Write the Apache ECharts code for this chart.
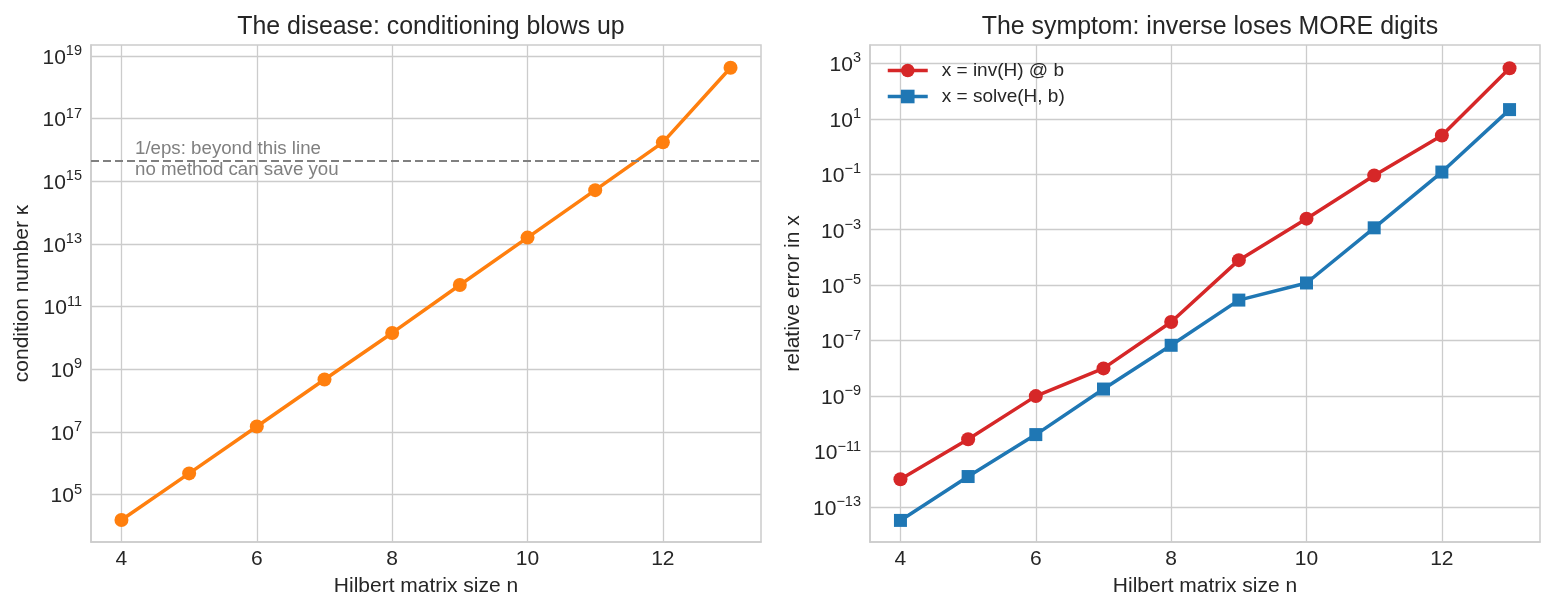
<!DOCTYPE html>
<html><head><meta charset="utf-8">
<script src="https://cdn.jsdelivr.net/npm/echarts@6/dist/echarts.min.js"></script>
<style>html,body{margin:0;padding:0;background:#fff}#c{width:1555px;height:611px}</style>
</head><body><div id="c"></div>
<script>
// ---- data ----
const sizes = [4, 5, 6, 7, 8, 9, 10, 11, 12, 13];
const condNumbers = [1.55e4, 4.77e5, 1.50e7, 4.75e8, 1.45e10, 4.93e11, 1.60e13, 5.22e14, 1.75e16, 4.2e18];
const errInv = [1.0e-12, 2.8e-11, 1.0e-9, 1.0e-8, 4.7e-7, 8.0e-5, 2.5e-3, 9.0e-2, 2.5, 6.6e2];
const errSolve = [3.3e-14, 1.26e-12, 4.1e-11, 1.8e-9, 6.8e-8, 2.9e-6, 1.2e-5, 1.17e-3, 0.12, 21.4];
const invEps = 4.5036e15;
const leftTicksExp = [5, 7, 9, 11, 13, 15, 17, 19];
const rightTicksExp = [-13, -11, -9, -7, -5, -3, -1, 1, 3];
const xTicks = [4, 6, 8, 10, 12];
const titles = ['The disease: conditioning blows up', 'The symptom: inverse loses MORE digits'];
const xName = 'Hilbert matrix size n';
const yNames = ['condition number \u03ba', 'relative error in x'];
const seriesNames = ['x = inv(H) @ b', 'x = solve(H, b)'];
const annotation = '1/eps: beyond this line\nno method can save you';

// ---- build ----
const FONT = 'Liberation Sans';
const TXT = '#262626';
const GRID = '#cccccc';
const lg = v => Math.log10(v);
const pts = vals => sizes.map((n, i) => [n, lg(vals[i])]);

function yLabel(v) {
  const e = Math.round(v);
  const s = e < 0 ? '\u2212' + Math.abs(e) : String(e);
  return '{b|10}{s|' + s + '}';
}
const rich = {
  b: { fontSize: 21, fontFamily: FONT, color: TXT, padding: [4, 0, 0, 0] },
  s: { fontSize: 14.5, fontFamily: FONT, color: TXT, padding: [0, 0, 10, 0] }
};

function xAxis(idx) {
  return {
    gridIndex: idx, type: 'value', min: 3.55, max: 13.45,
    name: xName, nameLocation: 'middle', nameGap: 34,
    nameTextStyle: { fontSize: 21, fontFamily: FONT, color: TXT },
    axisLine: { show: true, onZero: false, lineStyle: { color: GRID, width: 1.5 } },
    axisTick: { show: false, customValues: xTicks },
    axisLabel: { customValues: xTicks, fontSize: 21, fontFamily: FONT, color: TXT, margin: 7 },
    splitLine: { show: true, lineStyle: { color: GRID, width: 1.3 } }
  };
}
function yAxis(idx, min, max, ticks, nameGap) {
  return {
    gridIndex: idx, type: 'value', min: min, max: max,
    name: yNames[idx], nameLocation: 'middle', nameGap: nameGap,
    nameTextStyle: { fontSize: 21, fontFamily: FONT, color: TXT },
    axisLine: { show: true, onZero: false, lineStyle: { color: GRID, width: 1.5 } },
    axisTick: { show: false, customValues: ticks },
    axisLabel: { customValues: ticks, formatter: yLabel, rich: rich, margin: 9 },
    splitLine: { show: true, lineStyle: { color: GRID, width: 1.3 } }
  };
}

const chart = echarts.init(document.getElementById('c'), null, { renderer: 'canvas' });
chart.setOption({
  animation: false,
  backgroundColor: '#ffffff',
  title: [
    { text: titles[0], left: 426, top: 10, textAlign: 'center', textStyle: { fontSize: 24.9, fontWeight: 'normal', fontFamily: FONT, color: TXT } },
    { text: titles[1], left: 1205, top: 10, textAlign: 'center', textStyle: { fontSize: 24.9, fontWeight: 'normal', fontFamily: FONT, color: TXT } }
  ],
  grid: [
    { left: 91, right: 794, top: 45, bottom: 69, show: true, borderColor: GRID, borderWidth: 1.5 },
    { left: 870, right: 15, top: 45, bottom: 69, show: true, borderColor: GRID, borderWidth: 1.5 }
  ],
  xAxis: [xAxis(0), xAxis(1)],
  yAxis: [yAxis(0, 3.49, 19.35, leftTicksExp, 58), yAxis(1, -14.26, 3.66, rightTicksExp, 66)],
  legend: {
    left: 881, top: 56, orient: 'vertical', itemGap: 7, itemWidth: 40, itemHeight: 17,
    textStyle: { fontSize: 19, fontFamily: FONT, color: TXT, padding: [0, 0, 0, 9] },
    lineStyle: { width: 3.5 },
    data: seriesNames
  },
  series: [
    {
      type: 'line', xAxisIndex: 0, yAxisIndex: 0, data: pts(condNumbers),
      color: '#ff7f0e', lineStyle: { width: 3.5 }, symbol: 'circle', symbolSize: 14,
      markLine: {
        silent: true, symbol: 'none',
        lineStyle: { color: '#808080', type: [8, 4], width: 2.2 },
        label: { show: false },
        data: [{ yAxis: lg(invEps) }]
      },
      markPoint: {
        silent: true, symbol: 'circle', symbolSize: 0,
        label: {
          show: true, position: 'right', distance: 0, formatter: annotation,
          fontSize: 18.7, lineHeight: 21, fontFamily: FONT, color: '#808080', align: 'left', verticalAlign: 'middle'
        },
        data: [{ coord: [4.2, lg(invEps) + 0.04] }]
      }
    },
    {
      name: seriesNames[0], type: 'line', xAxisIndex: 1, yAxisIndex: 1, data: pts(errInv),
      color: '#d62728', lineStyle: { width: 3.5 }, symbol: 'circle', symbolSize: 14
    },
    {
      name: seriesNames[1], type: 'line', xAxisIndex: 1, yAxisIndex: 1, data: pts(errSolve),
      color: '#1f77b4', lineStyle: { width: 3.5 }, symbol: 'rect', symbolSize: 13
    }
  ]
});
</script>
</body></html>
